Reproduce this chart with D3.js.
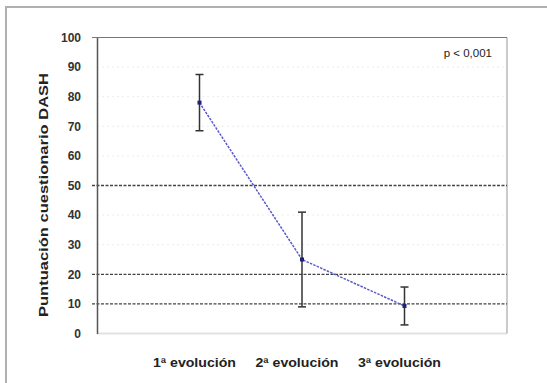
<!DOCTYPE html>
<html>
<head>
<meta charset="utf-8">
<script src="https://cdn.jsdelivr.net/npm/d3@7"></script>
<style>
  body { margin: 0; background: #fff; }
  svg text { font-family: "Liberation Sans", Arial, sans-serif; fill: #222; }
</style>
</head>
<body>
<svg></svg>
<script>
const width = 547;
const height = 383;

// data
const categories = ["1ª evolución", "2ª evolución", "3ª evolución"];
const means = [78, 25, 9.3];
const errors = [9.5, 16, 6.4];
const yTicks = [0, 10, 20, 30, 40, 50, 60, 70, 80, 90, 100];
const refLines = [10, 20, 50];

const plot = {left: 97, right: 507, top: 37.5, bottom: 333.5};

const svg = d3.select("svg")
  .attr("width", width)
  .attr("height", height);

// outer frame (left + top)
svg.append("path")
  .attr("d", `M6,${height} L6,7 L${width},7`)
  .attr("fill", "none")
  .attr("stroke", "#b0b0b0")
  .attr("stroke-width", 2);

const xScale = d3.scalePoint()
  .domain(categories)
  .range([plot.left, plot.right])
  .padding(1);

const yScale = d3.scaleLinear()
  .domain([0, 100])
  .range([plot.bottom, plot.top]);

// faint gridlines
svg.append("g")
  .selectAll("line")
  .data(yTicks.filter(d => d > 0 && d < 100 && !refLines.includes(d)))
  .join("line")
    .attr("x1", plot.left)
    .attr("x2", plot.right)
    .attr("y1", d => yScale(d))
    .attr("y2", d => yScale(d))
    .attr("stroke", "#ececec")
    .attr("stroke-dasharray", "2,3");

// plot border: bottom light, right and top grey
svg.append("line")
  .attr("x1", plot.left).attr("x2", plot.right)
  .attr("y1", plot.bottom).attr("y2", plot.bottom)
  .attr("stroke", "#e2e2e2").attr("stroke-width", 2);
svg.append("line")
  .attr("x1", plot.right).attr("x2", plot.right)
  .attr("y1", plot.top).attr("y2", plot.bottom)
  .attr("stroke", "#a8a8a8").attr("stroke-width", 1.2);
svg.append("line")
  .attr("x1", plot.left - 5).attr("x2", plot.right)
  .attr("y1", plot.top).attr("y2", plot.top)
  .attr("stroke", "#777").attr("stroke-width", 1.2);

// dashed reference lines
svg.append("g")
  .selectAll("line")
  .data(refLines)
  .join("line")
    .attr("x1", plot.left - 5)
    .attr("x2", plot.right)
    .attr("y1", d => yScale(d))
    .attr("y2", d => yScale(d))
    .attr("stroke", "#444")
    .attr("stroke-width", 1.3)
    .attr("stroke-dasharray", "3,1.5");

// y axis
const yAxis = d3.axisLeft(yScale)
  .tickValues(yTicks)
  .tickSize(0)
  .tickPadding(16);

const yg = svg.append("g")
  .attr("transform", `translate(${plot.left},0)`)
  .call(yAxis);
yg.select(".domain").attr("stroke", "#555").attr("stroke-width", 1.5);
yg.selectAll("text")
  .style("font-size", "12px")
  .style("font-weight", "bold")
  .style("fill", "#333");

// x labels
svg.append("g")
  .selectAll("text")
  .data(categories)
  .join("text")
    .attr("x", d => xScale(d) - 5)
    .attr("y", 367)
    .attr("text-anchor", "middle")
    .attr("textLength", 83)
    .attr("lengthAdjust", "spacingAndGlyphs")
    .style("font-size", "12.5px")
    .style("font-weight", "bold")
    .text(d => d);

// y title
svg.append("text")
  .attr("transform", "rotate(-90)")
  .attr("x", -195)
  .attr("y", 48)
  .attr("text-anchor", "middle")
  .attr("textLength", 244)
  .attr("lengthAdjust", "spacingAndGlyphs")
  .style("font-size", "13px")
  .style("font-weight", "bold")
  .text("Puntuación cuestionario DASH");

// p value
svg.append("text")
  .attr("x", 492)
  .attr("y", 57)
  .attr("text-anchor", "end")
  .style("font-size", "11.5px")
  .text("p < 0,001");

const points = categories.map((c, i) => ({cat: c, mean: means[i], err: errors[i]}));

// error bars
const eb = svg.append("g").attr("stroke", "#333").attr("stroke-width", 1.5);
eb.selectAll(".bar")
  .data(points)
  .join("line")
    .attr("x1", d => xScale(d.cat))
    .attr("x2", d => xScale(d.cat))
    .attr("y1", d => yScale(d.mean + d.err))
    .attr("y2", d => yScale(d.mean - d.err));
eb.selectAll(".cap")
  .data(points.flatMap(d => [d.mean + d.err, d.mean - d.err].map(v => ({cat: d.cat, v}))))
  .join("line")
    .attr("x1", d => xScale(d.cat) - 4)
    .attr("x2", d => xScale(d.cat) + 4)
    .attr("y1", d => yScale(d.v))
    .attr("y2", d => yScale(d.v));

// line
const line = d3.line()
  .x(d => xScale(d.cat))
  .y(d => yScale(d.mean));

svg.append("path")
  .datum(points)
  .attr("d", line)
  .attr("fill", "none")
  .attr("stroke", "#5a5ac8")
  .attr("stroke-width", 1.5)
  .attr("stroke-dasharray", "2.5,1.2");

// markers
svg.append("g")
  .selectAll("rect")
  .data(points)
  .join("rect")
    .attr("x", d => xScale(d.cat) - 2)
    .attr("y", d => yScale(d.mean) - 2)
    .attr("width", 4)
    .attr("height", 4)
    .attr("fill", "#20207a");
</script>
</body>
</html>
